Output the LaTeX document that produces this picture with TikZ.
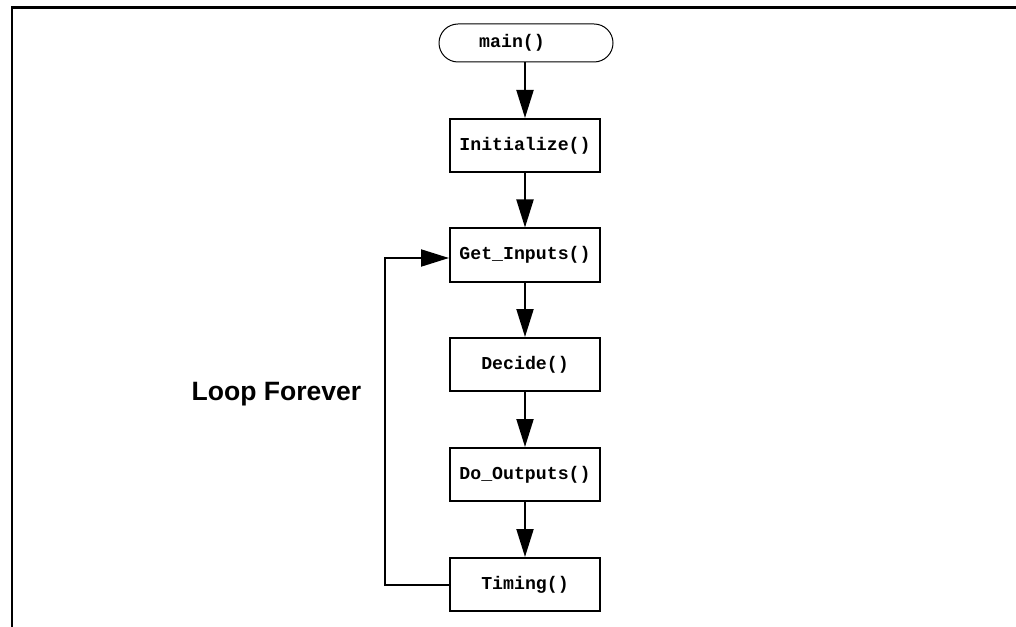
\documentclass[tikz,border=0pt]{standalone}
\usepackage{fontspec}
\setmainfont{Liberation Sans}
\newfontfamily\codefont{Liberation Mono}
\usetikzlibrary{arrows.meta}
\begin{document}
\begin{tikzpicture}[x=0.75pt,y=-0.75pt,
  frame/.style={line width=1.6pt},
  stepbox/.style={draw,line width=1.5pt,minimum width=112.5pt,minimum height=39.75pt,inner sep=0pt,
    font=\codefont\bfseries\fontsize{13.65}{16}\selectfont},
  term/.style={draw,line width=0.75pt,rounded corners=14.25pt,minimum width=130.5pt,minimum height=28.5pt,inner sep=0pt,
    font=\codefont\bfseries\fontsize{13.65}{16}\selectfont},
  flow/.style={line width=1.5pt,-{Triangle[length=21pt,width=12.75pt]}},
  loopline/.style={line width=1.5pt,-{Triangle[length=21pt,width=12.75pt]}},
  label/.style={font=\bfseries\fontsize{19.9}{24}\selectfont}
]
\useasboundingbox (0,0) rectangle (1016,627);
\draw[frame] (12,627) -- (12,7.5) -- (1016,7.5);
\node[term] (main) at (526,43) {main()\kern21pt\null};
\node[stepbox] (init) at (525,145.5) {Initialize()};
\node[stepbox] (get) at (525,255) {Get\_Inputs()};
\node[stepbox] (decide) at (525,364.5) {Decide()};
\node[stepbox] (doout) at (525,474.5) {Do\_Outputs()};
\node[stepbox] (timing) at (525,584.5) {Timing()};
\node[label,anchor=base] (loop) at (276.5,400) {Loop Forever};
\draw[flow] (main.south -| init.north) -- (init.north);
\draw[flow] (init) -- (get);
\draw[flow] (get) -- (decide);
\draw[flow] (decide) -- (doout);
\draw[flow] (doout) -- (timing);
\coordinate (turn) at (385,584.5);
\draw[loopline] (timing.west) -- (turn) |- ([yshift=-2.25pt]get.west);
\end{tikzpicture}
\end{document}
